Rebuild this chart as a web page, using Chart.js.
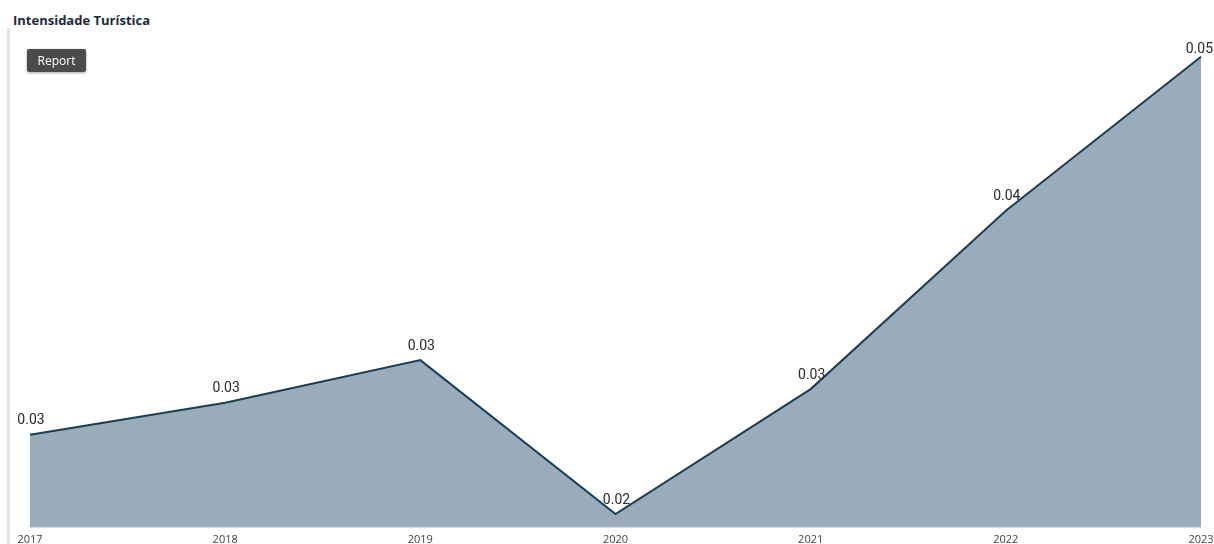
<!DOCTYPE html>
<html>
<head>
<meta charset="utf-8">
<script src="https://cdn.jsdelivr.net/npm/chart.js@4"></script>
<style>
  html, body { margin: 0; padding: 0; background: #fff; }
  #wrap { position: relative; width: 1214px; height: 544px; overflow: hidden; }
  #wrap .edge { position: absolute; left: 7px; top: 28px; width: 3px; height: 516px; background: #e3e3e3; }
  #wrap h1 { position: absolute; left: 13px; top: 11px; margin: 0; font: bold 13px "Open Sans", sans-serif; color: #1c2b3a; }
  #wrap .btn { position: absolute; left: 27px; top: 49px; width: 59px; height: 23px; background: #4b4b4b; color: #fff;
    font: 12px "Open Sans", sans-serif; line-height: 23px; text-align: center; border-radius: 2px;
    box-shadow: 0 1px 3px rgba(0,0,0,0.35); z-index: 2; }
  canvas { position: absolute; left: 0; top: 0; }
</style>
</head>
<body>
<div id="wrap">
  <div class="edge"></div>
  <h1>Intensidade Turística</h1>
  <div class="btn">Report</div>
  <canvas id="chartIntensity" width="1240" height="544"></canvas>
</div>
<script>
// years and tourist intensity per year
const years = ['2017', '2018', '2019', '2020', '2021', '2022', '2023'];
const intensity = [0.0252, 0.0273, 0.0301, 0.0200, 0.0282, 0.0399, 0.0500];

/** small plugin: value labels above each point, kept inside the visible page */
const pointLabels = {
  id: 'pointLabels',
  afterDatasetsDraw(chart) {
    const ctx = chart.ctx;
    const meta = chart.getDatasetMeta(0);
    ctx.save();
    ctx.font = '14px Roboto, sans-serif';
    ctx.fillStyle = '#2a2a2a';
    ctx.textAlign = 'center';
    ctx.textBaseline = 'bottom';
    meta.data.forEach((pt, i) => {
      const txt = intensity[i].toFixed(2);
      const w = ctx.measureText(txt).width;
      let x = Math.min(pt.x + 1, 1213 - w / 2);
      let y = Math.max(pt.y - 7, 56);
      ctx.fillText(txt, x, y);
    });
    ctx.restore();
  }
};

const _chartIntensity = document.getElementById('chartIntensity');

new Chart(_chartIntensity, {
  type: 'line',
  data: {
    labels: years,
    datasets: [{
      label: 'Intensidade Turística',
      data: intensity,
      fill: 'start',
      backgroundColor: '#9aacb9',
      borderColor: '#173f5a',
      borderWidth: 2,
      pointRadius: 0,
      tension: 0
    }]
  },
  options: {
    responsive: false,
    animation: false,
    layout: { padding: { left: 30, right: 39, top: 40, bottom: -7 } },
    plugins: { legend: { display: false }, tooltip: { enabled: false } },
    scales: {
      x: {
        offset: false,
        grid: { display: false, drawTicks: false },
        border: { display: false },
        ticks: {
          padding: 5,
          maxRotation: 0,
          autoSkip: false,
          color: '#444',
          font: { family: '"Open Sans", sans-serif', size: 11 }
        }
      },
      y: { display: false, min: 0.0191, max: 0.0511 }
    }
  },
  plugins: [pointLabels]
});
</script>
</body>
</html>
